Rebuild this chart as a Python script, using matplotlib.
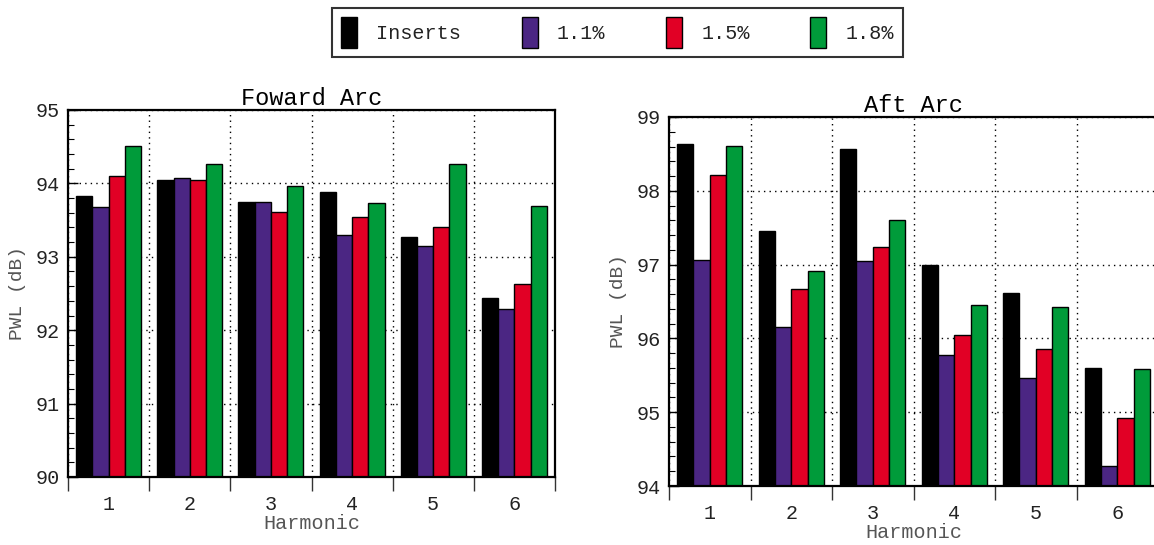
import numpy as np
import matplotlib
matplotlib.use("Agg")
import matplotlib.pyplot as plt
from matplotlib.patches import Patch
from matplotlib.ticker import MultipleLocator

plt.rcParams['font.family'] = ['Liberation Mono', 'DejaVu Sans Mono']

harmonics = [1, 2, 3, 4, 5, 6]
series_names = ['Inserts', '1.1%', '1.5%', '1.8%']
series_colors = ['#000000', '#4b2683', '#e10025', '#009b3a']

# Foward Arc PWL (dB)
fwd_inserts = [93.83, 94.04, 93.75, 93.88, 93.27, 92.44]
fwd_11 = [93.68, 94.07, 93.75, 93.30, 93.15, 92.29]
fwd_15 = [94.10, 94.04, 93.61, 93.54, 93.41, 92.63]
fwd_18 = [94.51, 94.27, 93.96, 93.73, 94.26, 93.69]

# Aft Arc PWL (dB)
aft_inserts = [98.63, 97.45, 98.57, 96.99, 96.61, 95.60]
aft_11 = [97.06, 96.15, 97.05, 95.77, 95.46, 94.27]
aft_15 = [98.21, 96.67, 97.24, 96.04, 95.85, 94.92]
aft_18 = [98.61, 96.92, 97.60, 96.45, 96.43, 95.59]

W, H = 1154, 545
fig = plt.figure(figsize=(W / 100, H / 100), dpi=100)


def px_axes(x0, y0, x1, y1):
    return fig.add_axes([x0 / W, 1 - y1 / H, (x1 - x0) / W, (y1 - y0) / H])


def bar_panel(ax, data, ylim, title):
    x = np.array(harmonics, dtype=float)
    bw = 0.2
    for i, (vals, col) in enumerate(zip(data, series_colors)):
        ax.bar(x + (i - 1.5) * bw, np.array(vals) - ylim[0], bw, bottom=ylim[0],
               color=col, edgecolor='black', linewidth=1.0, zorder=3)
    ax.set_xlim(0.5, 6.5)
    ax.set_ylim(*ylim)
    ax.set_xticks(harmonics)
    ax.set_xticks(np.arange(0.5, 7, 1.0), minor=True)
    ax.tick_params(axis='x', which='major', length=0, pad=13, labelsize=14.5, labelcolor='#222222')
    ax.tick_params(axis='x', which='minor', direction='out', length=10, width=1.0, color='#333333')
    ax.yaxis.set_major_locator(MultipleLocator(1))
    ax.yaxis.set_minor_locator(MultipleLocator(0.2))
    ax.tick_params(axis='y', which='major', direction='in', length=7, width=1.0, labelsize=14.5,
                   labelcolor='#222222', pad=6)
    ax.tick_params(axis='y', which='minor', direction='in', length=4, width=0.8)
    ax.grid(axis='x', which='minor', linestyle=(0, (1, 3)), color='black', linewidth=1.0, zorder=1)
    ax.grid(axis='y', which='major', linestyle=(0, (1, 3)), color='black', linewidth=1.0, zorder=1)
    for s in ax.spines.values():
        s.set_linewidth(1.6)
        s.set_zorder(4)
    ax.set_title(title, fontsize=17, pad=0)
    ax.set_xlabel('Harmonic', fontsize=14.5, color='#555555', labelpad=0)
    ax.set_ylabel('PWL (dB)', fontsize=14, color='#555555', labelpad=7)


ax1 = px_axes(68, 110, 555, 477)
bar_panel(ax1, [fwd_inserts, fwd_11, fwd_15, fwd_18], (90, 95), 'Foward Arc')

ax2 = px_axes(669, 117, 1158, 486)
bar_panel(ax2, [aft_inserts, aft_11, aft_15, aft_18], (94, 99), 'Aft Arc')

handles = [Patch(facecolor=c, edgecolor='black', linewidth=1.0) for c in series_colors]
leg = fig.legend(handles, series_names, loc='upper center', bbox_to_anchor=(617.5 / W, 1 - 8 / H),
                 ncol=4, fontsize=14.5, frameon=True, fancybox=False, handlelength=0.8,
                 handleheight=2.0, handletextpad=0.95, columnspacing=3.0, borderpad=0.45,
                 borderaxespad=0)
leg._legend_box.sep = 0
leg.get_frame().set_edgecolor('black')
leg.get_frame().set_linewidth(1.5)
for t in leg.get_texts():
    t.set_color('#222222')

fig.savefig('out.png', dpi=100)
